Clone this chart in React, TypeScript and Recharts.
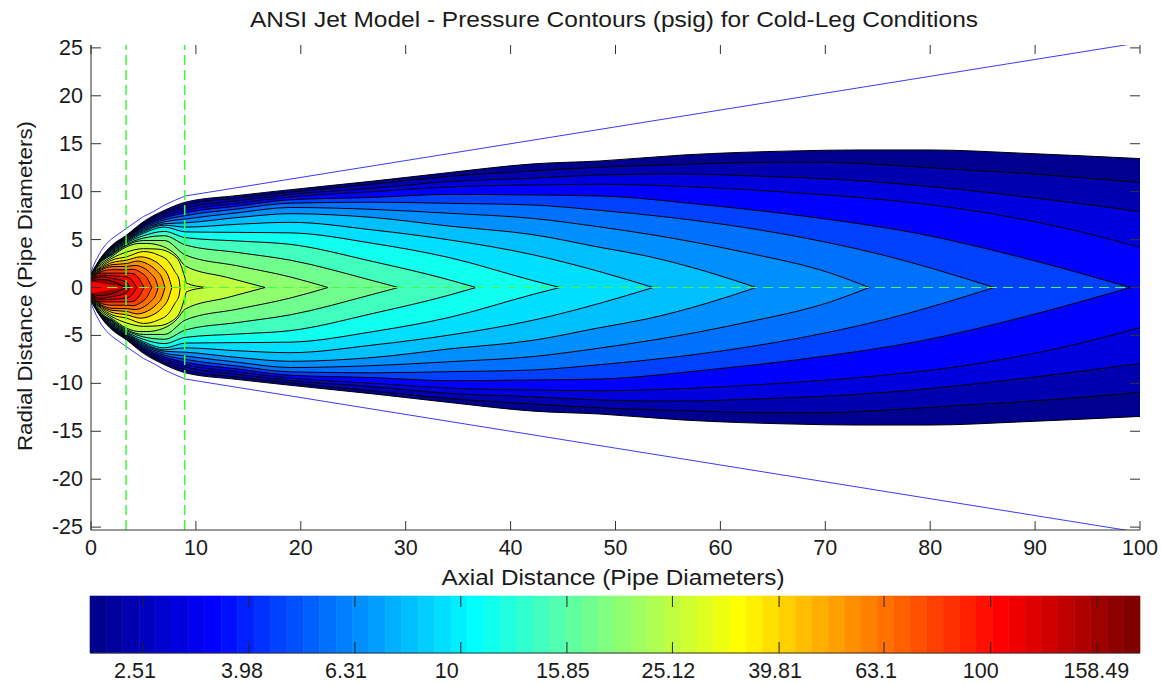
import { Area, Bar, BarChart, ComposedChart, Line, ReferenceLine, XAxis, YAxis } from 'recharts';

const CONTOUR_1 = [[0, 1.4], [1, 3.2], [2, 4.4], [3.4, 5.48], [5, 6.87], [7, 8.05], [9, 8.9], [14, 9.6], [19, 10.2], [26.9, 11.1], [34.2, 12], [42.2, 12.9], [48.5, 13.2], [56.5, 13.83], [67, 14.25], [73, 14.35], [80, 14.35], [89, 14], [100, 13.45]];
const CONTOUR_2 = [[0, 1.38], [1, 3.12], [2, 4.32], [3.4, 5.4], [5, 6.73], [7, 7.85], [9, 8.6], [14, 9.35], [19, 9.95], [26.9, 10.8], [34.2, 11.6], [42.2, 12.16], [48.5, 12.55], [55, 12.8], [62, 13.03], [69, 13.07], [75.8, 12.79], [82.7, 12.3], [89, 11.9], [100, 10.94]];
const CONTOUR_3 = [[0, 1.36], [1, 3.06], [2, 4.25], [3.4, 5.32], [5, 6.6], [7, 7.65], [9, 8.3], [14, 9.05], [19, 9.7], [26.9, 10.35], [34.2, 11.05], [42.2, 11.4], [48.5, 11.74], [56, 11.85], [64, 11.6], [73, 11.15], [82.6, 10.25], [91, 9.2], [100, 7.92]];
const CONTOUR_4 = [[0, 1.34], [1, 3], [2, 4.18], [3.4, 5.24], [5, 6.47], [7, 7.45], [9, 8.05], [14, 8.8], [19, 9.45], [26.9, 10], [34.2, 10.5], [42.2, 10.7], [48.5, 10.77], [55.2, 10.6], [65.6, 10], [75.8, 9.13], [82.6, 8.26], [92.8, 6.2], [100, 4.19]];
const CONTOUR_5 = [[0, 1.32], [1, 2.95], [2, 4.1], [3.4, 5.16], [5, 6.34], [7, 7.25], [9, 7.8], [14, 8.5], [19, 9.15], [26.9, 9.4], [34.2, 9.72], [42.2, 9.65], [48.5, 9.55], [58.7, 8.6], [69, 7.3], [79, 5.6], [89, 3.05], [99.1, 0]];
const CONTOUR_6 = [[0, 1.3], [1, 2.9], [2, 4.02], [3.4, 5.08], [5, 6.2], [7, 7.05], [9, 7.5], [14, 8.2], [19, 8.8], [26.9, 8.9], [34.2, 8.78], [42.2, 8.6], [48.5, 8.05], [55.3, 7.3], [65.6, 5.66], [75.8, 3.3], [86.1, 0]];
const CONTOUR_7 = [[0, 1.28], [1, 2.84], [2, 3.94], [3.4, 5], [5, 6.07], [7, 6.85], [9, 7.15], [14, 7.8], [19, 8.35], [26.9, 8.15], [34.2, 7.74], [42.2, 7.2], [48.5, 6.32], [53.6, 5.48], [62, 3.74], [70.6, 1.46], [74.2, 0]];
const CONTOUR_8 = [[0, 1.26], [1, 2.78], [2, 3.85], [3.4, 4.93], [5, 5.93], [7, 6.65], [9, 6.75], [14, 7.3], [19, 7.7], [26.9, 7.3], [34.2, 6.4], [42.2, 5.5], [48.5, 4.19], [52.9, 3.3], [58.7, 1.65], [63.4, 0]];
const CONTOUR_9 = [[0, 1.24], [1, 2.72], [2, 3.75], [3.4, 4.85], [5, 5.8], [7, 6.5], [9, 6.3], [14, 6.6], [19, 6.8], [26.9, 6], [34.2, 4.96], [42.2, 3.4], [48.5, 1.65], [53.6, 0]];
const CONTOUR_10 = [[0, 1.22], [1, 2.66], [2, 3.65], [3.4, 4.75], [5, 5.65], [7, 6.3], [9, 5.8], [14, 5.75], [19, 5.7], [26.9, 4.6], [34.2, 3.11], [42.2, 0.7], [44.7, 0]];
const CONTOUR_11 = [[0, 1.2], [1, 2.6], [2, 3.55], [3.4, 4.65], [5, 5.4], [7, 5.85], [9, 5.2], [14, 4.85], [19, 4.5], [26.9, 2.7], [34.2, 0.78], [36.7, 0]];
const CONTOUR_12 = [[0, 1.18], [1, 2.52], [2, 3.48], [3.4, 4.5], [5, 5.15], [7, 5.4], [9, 4.44], [14, 3.65], [19, 2.85], [26.9, 0.7], [29.3, 0]];
const CONTOUR_13 = [[0, 1.15], [1, 2.7], [2, 3.4], [3.4, 4.4], [5, 4.9], [7, 4.9], [9, 3.39], [14, 2.25], [19, 1.1], [22.6, 0]];
const CONTOUR_14 = [[0, 1.12], [1, 2.5], [2, 3.25], [3.4, 4.25], [4.7, 4.6], [5.3, 4.6], [6.9, 4.26], [8.2, 3.3], [9, 2.24], [13, 1.05], [16.6, 0]];
const CONTOUR_15 = [[0, 1.08], [1, 2.33], [2, 3.05], [3.4, 3.7], [5, 4.05], [6.4, 4], [7.7, 3.5], [8.5, 2.5], [8.96, 1], [9.1, 0.45], [11, 0]];
const CONTOUR_16 = [[0, 1.05], [1, 2.17], [2, 2.85], [3.4, 3.2], [5, 3.75], [6.4, 3.4], [7.4, 2.7], [8, 1.65], [8.4, 0.8], [8.5, 0]];
const CONTOUR_17 = [[0, 1.02], [1, 2.05], [2, 2.6], [3.4, 2.85], [4.7, 3.2], [5.8, 2.9], [6.8, 2.1], [7.4, 1.1], [7.7, 0]];
const CONTOUR_18 = [[0, 0.98], [1, 1.93], [2, 2.38], [3.4, 2.5], [4.4, 2.75], [5.4, 2.45], [6.2, 1.8], [6.8, 0.9], [7.05, 0]];
const CONTOUR_19 = [[0, 0.95], [1, 1.83], [2, 2.17], [3.4, 2.2], [4.2, 2.3], [5, 2.05], [5.7, 1.45], [6.2, 0.7], [6.4, 0]];
const CONTOUR_20 = [[0, 0.9], [1, 1.67], [2, 1.85], [3.4, 1.85], [4, 1.9], [4.7, 1.6], [5.3, 1.05], [5.8, 0]];
const CONTOUR_21 = [[0, 0.85], [1, 1.5], [2, 1.5], [3.4, 1.5], [4, 1.45], [4.6, 0.9], [5.05, 0]];
const CONTOUR_22 = [[0, 0.79], [1, 1.3], [2, 1.22], [3.4, 1.1], [3.9, 0.75], [4.35, 0]];
const CONTOUR_23 = [[0, 0.72], [1, 1.13], [2, 0.96], [3.4, 0.55], [3.7, 0]];
const CONTOUR_24 = [[0, 0.66], [1, 0.85], [2, 0.65], [3, 0.2], [3.5, 0]];
const NOZZLE_WEDGE = [[0, 0.6], [3.35, 0]];
const JET_BOUNDARY = [[0, 1.6], [0.25, 2.3], [0.5, 2.9], [1, 3.9], [1.5, 4.6], [2, 5.1], [3.4, 6.2], [5, 7.4], [6, 7.95], [7, 8.6], [8, 9.1], [9, 9.55], [100, 25.55]];

const ZONE_LINES = [3.34, 8.93];
const X_TICKS = [0, 10, 20, 30, 40, 50, 60, 70, 80, 90, 100];
const Y_TICKS = [-25, -20, -15, -10, -5, 0, 5, 10, 15, 20, 25];

// jet(64), one entry per colorbar band
const JET = [
  '#00008f', '#00009f', '#0000af', '#0000bf', '#0000cf', '#0000df', '#0000ef', '#0000ff',
  '#0010ff', '#0020ff', '#0030ff', '#0040ff', '#0050ff', '#0060ff', '#0070ff', '#0080ff',
  '#008fff', '#009fff', '#00afff', '#00bfff', '#00cfff', '#00dfff', '#00efff', '#00ffff',
  '#10ffef', '#20ffdf', '#30ffcf', '#40ffbf', '#50ffaf', '#60ff9f', '#70ff8f', '#80ff80',
  '#8fff70', '#9fff60', '#afff50', '#bfff40', '#cfff30', '#dfff20', '#efff10', '#ffff00',
  '#ffef00', '#ffdf00', '#ffcf00', '#ffbf00', '#ffaf00', '#ff9f00', '#ff8f00', '#ff8000',
  '#ff7000', '#ff6000', '#ff5000', '#ff4000', '#ff3000', '#ff2000', '#ff1000', '#ff0000',
  '#ef0000', '#df0000', '#cf0000', '#bf0000', '#af0000', '#9f0000', '#8f0000', '#800000',
];
const CONTOUR_BANDS = [0, 2, 5, 7, 11, 14, 16, 19, 21, 24, 27, 30, 32, 35, 37, 40, 43, 46, 48, 51, 54, 56, 59, 62];

// Colorbar ticks in band units (64 bands across the bar)
const BAR_TICKS = [3.23, 9.69, 16.15, 22.6, 29.07, 35.5, 42, 48.4, 54.9, 61.4];
const BAR_LABELS = ['2.51', '3.98', '6.31', '10', '15.85', '25.12', '39.81', '63.1', '100', '158.49'];
// the labels sit left of their ticks in the original, shorter ones further
const BAR_LABEL_SHIFT = [-8, -7, -9, -14, -4, -4, -4, -8, -10, -1];

const CONTOURS = [
  CONTOUR_1, CONTOUR_2, CONTOUR_3, CONTOUR_4, CONTOUR_5, CONTOUR_6, CONTOUR_7, CONTOUR_8,
  CONTOUR_9, CONTOUR_10, CONTOUR_11, CONTOUR_12, CONTOUR_13, CONTOUR_14, CONTOUR_15, CONTOUR_16,
  CONTOUR_17, CONTOUR_18, CONTOUR_19, CONTOUR_20, CONTOUR_21, CONTOUR_22, CONTOUR_23, CONTOUR_24,
];

const toBand = (pts: number[][]) => pts.map(([x, r]) => ({ x, band: [-r, r] }));
const toMirror = (pts: number[][]) => pts.map(([x, r]) => ({ x, up: r, down: -r }));

const barRow: Record<string, number> = { row: 0 };
JET.forEach((_, i) => { barRow[`b${i}`] = 1; });

const FONT = '"Liberation Sans", Arial, sans-serif';
const INK = '#1a1a1a';
const FRAME = '#333333';
const PLOT_W = 1049;
const PLOT_H = 485;
const BAR_H = 57;

function XTick({ x, y, payload }: any) {
  return (
    <g>
      <line x1={x} x2={x} y1={y} y2={y - 9} stroke={FRAME} />
      <line x1={x} x2={x} y1={y - PLOT_H} y2={y - PLOT_H + 9} stroke={FRAME} />
      <text x={x} y={y + 25} textAnchor="middle" fontSize={21.5} fontFamily={FONT} fill={INK}>{payload.value}</text>
    </g>
  );
}

function YTick({ x, y, payload }: any) {
  return (
    <g>
      <line x1={x} x2={x + 10} y1={y} y2={y} stroke={FRAME} />
      <line x1={x + PLOT_W} x2={x + PLOT_W - 10} y1={y} y2={y} stroke={FRAME} />
      <text x={x - 8} y={y + 7} textAnchor="end" fontSize={21.5} fontFamily={FONT} fill={INK}>{payload.value}</text>
    </g>
  );
}

function BarTick({ x, y, index }: any) {
  return (
    <g>
      <line x1={x} x2={x} y1={y} y2={y - 11} stroke="#222" />
      <line x1={x} x2={x} y1={y - BAR_H} y2={y - BAR_H + 11} stroke="#222" />
      <text x={x + BAR_LABEL_SHIFT[index]} y={y + 25} textAnchor="middle" fontSize={21.5} fontFamily={FONT} fill={INK}>{BAR_LABELS[index]}</text>
    </g>
  );
}

export default function App() {
  return (
    <div style={{ position: 'absolute', left: 0, top: 0, width: 1161, height: 684, background: '#fff' }}>
      <div style={{ position: 'absolute', left: 0, top: 0 }}>
        <ComposedChart width={1161} height={590} margin={{ top: 45, right: 21, bottom: 10, left: 21 }}>
          <XAxis
            dataKey="x"
            type="number"
            domain={[0, 100]}
            ticks={X_TICKS}
            tick={<XTick />}
            tickLine={false}
            tickSize={0}
            tickMargin={0}
            height={50}
            stroke={FRAME}
            allowDataOverflow
          />
          <XAxis xAxisId="top" orientation="top" type="number" domain={[0, 100]} tick={false} tickLine={false} height={0} stroke={FRAME} />
          <YAxis
            type="number"
            domain={[-25.3, 25.3]}
            ticks={Y_TICKS}
            tick={<YTick />}
            tickLine={false}
            tickSize={0}
            tickMargin={0}
            width={70}
            stroke={FRAME}
            allowDataOverflow
            interval={0}
          />
          <YAxis yAxisId="right" orientation="right" type="number" domain={[-25.3, 25.3]} tick={false} tickLine={false} width={0} stroke={FRAME} />

          {CONTOURS.map((pts, i) => (
            <Area
              key={i}
              data={toBand(pts)}
              dataKey="band"
              type="monotone"
              fill={JET[CONTOUR_BANDS[i]]}
              fillOpacity={1}
              stroke="#000"
              strokeWidth={1}
              dot={false}
              activeDot={false}
              isAnimationActive={false}
            />
          ))}
          <Area data={toBand(NOZZLE_WEDGE)} dataKey="band" type="linear" fill="#ff0000" fillOpacity={1} stroke="none" dot={false} activeDot={false} isAnimationActive={false} />

          <Line data={toMirror(JET_BOUNDARY)} dataKey="up" type="linear" stroke="#3a3aff" strokeWidth={1} dot={false} activeDot={false} isAnimationActive={false} />
          <Line data={toMirror(JET_BOUNDARY)} dataKey="down" type="linear" stroke="#3a3aff" strokeWidth={1} dot={false} activeDot={false} isAnimationActive={false} />

          {ZONE_LINES.map((x) => (
            <ReferenceLine key={x} x={x} stroke="#33ff33" strokeWidth={1.5} strokeDasharray="10 5" />
          ))}
          <ReferenceLine y={0} stroke="#44ff44" strokeWidth={1} strokeDasharray="10 6" />

          <text x={614} y={27} textAnchor="middle" fontSize={22} fontFamily={FONT} fill={INK} textLength={728} lengthAdjust="spacingAndGlyphs">
            ANSI Jet Model - Pressure Contours (psig) for Cold-Leg Conditions
          </text>
          <text x={613} y={585} textAnchor="middle" fontSize={22} fontFamily={FONT} fill={INK} textLength={343} lengthAdjust="spacingAndGlyphs">
            Axial Distance (Pipe Diameters)
          </text>
          <text x={32} y={286} textAnchor="middle" fontSize={21} fontFamily={FONT} fill={INK} textLength={330} lengthAdjust="spacingAndGlyphs" transform="rotate(-90 32 286)">
            Radial Distance (Pipe Diameters)
          </text>
        </ComposedChart>
      </div>
      <div style={{ position: 'absolute', left: 0, top: 585 }}>
        <BarChart width={1161} height={99} layout="vertical" data={[barRow]} barCategoryGap={0} margin={{ top: 11, right: 21, bottom: 0, left: 90 }}>
          <XAxis
            type="number"
            domain={[0, 64]}
            ticks={BAR_TICKS}
            tick={<BarTick />}
            tickLine={false}
            tickSize={0}
            tickMargin={0}
            height={31}
            stroke={FRAME}
            interval={0}
            allowDecimals
          />
          <XAxis xAxisId="top" orientation="top" type="number" domain={[0, 64]} tick={false} tickLine={false} height={0} stroke={FRAME} />
          <YAxis type="category" dataKey="row" tick={false} tickLine={false} width={0} stroke={FRAME} />
          <YAxis yAxisId="right" orientation="right" type="category" dataKey="row" tick={false} tickLine={false} width={0} stroke={FRAME} />
          {JET.map((color, i) => (
            <Bar key={i} dataKey={`b${i}`} stackId="bar" fill={color} stroke={color} strokeWidth={0.6} isAnimationActive={false} />
          ))}
        </BarChart>
      </div>
    </div>
  );
}
